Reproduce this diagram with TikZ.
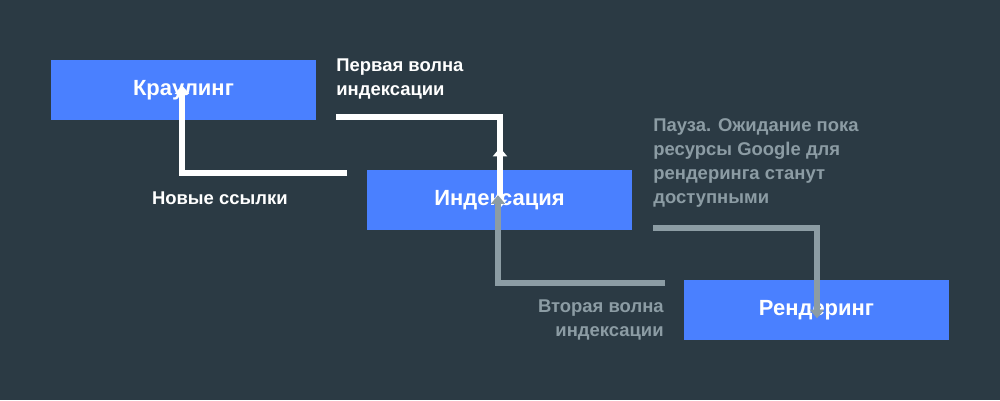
\documentclass[tikz,border=0pt]{standalone}
\usepackage{fontspec}
\setmainfont{Liberation Sans}
\usetikzlibrary{positioning,arrows.meta}
\definecolor{bgdark}{HTML}{2B3A44}
\definecolor{boxblue}{HTML}{4A80FF}
\definecolor{arrowgray}{HTML}{8C9CA4}
\tikzset{
  stagebox/.style={fill=boxblue,minimum width=5.3cm,minimum height=1.2cm,text=white,font=\fontsize{12.5}{15}\selectfont\bfseries},
  flowline/.style={line width=3pt,-{Triangle[length=5pt,width=8pt]}},
  notetext/.style={font=\fontsize{10.5}{13.7}\selectfont\bfseries,inner sep=0pt}
}
\begin{document}
\begin{tikzpicture}[x=0.02cm,y=-0.02cm]
\fill[bgdark] (0,0) rectangle (1000,400);

\node[stagebox] (crawl) at (183.5,90) {Краулинг};
\node[stagebox] (index) at (499.5,200) {Индексация};
\node[stagebox] (render) at (816.5,310) {Рендеринг};

% white loop
\coordinate (w1) at (336,117);
\coordinate (w2) at (347,173);
\draw[flowline,white] (w1) -| (index.north -| 500,0) ++(0,-22);
\draw[flowline,white] (w1) -| ([yshift=-22]index.north -| 500,0);
\draw[flowline,white] (w2) -| ([yshift=20]crawl.south -| 182,0);

% gray loop
\coordinate (g1) at (653,228);
\coordinate (g2) at (665,283);
\draw[flowline,arrowgray] (g1) -| ([yshift=-22]render.north -| 817,0);
\draw[flowline,arrowgray] (g2) -| ([yshift=20]index.south -| 498,0);

\node[notetext,text=white,align=left,anchor=north west] (first) at (336,58) {Первая волна\\индексации};
\node[notetext,text=white,anchor=east] (links) at (288,198) {Новые ссылки};
\node[notetext,text=arrowgray,align=left,anchor=north west] (pause) at (653,118) {Пауза. Ожидание пока\\ресурсы Google для\\рендеринга станут\\доступными};
\node[notetext,text=arrowgray,align=right,anchor=north east] (second) at (664,299) {Вторая волна\\индексации};
\end{tikzpicture}
\end{document}
